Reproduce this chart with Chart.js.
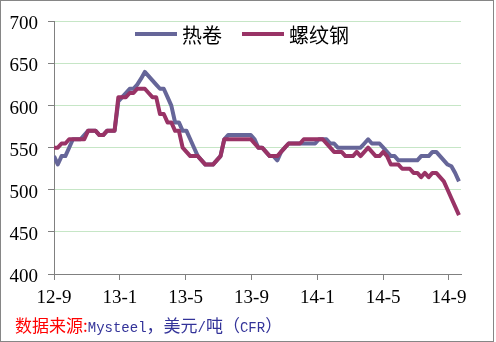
<!DOCTYPE html>
<html>
<head>
<meta charset="utf-8">
<title>热卷 / 螺纹钢</title>
<script src="https://cdn.jsdelivr.net/npm/chart.js@4"></script>
<style>
  body { margin: 0; background: #fff; }
  #frame {
    position: absolute; left: 0; top: 0;
    width: 494px; height: 342px;
    box-sizing: border-box;
    border: 1px solid #868686;
  }
  #chart { position: absolute; left: 0; top: 0; }
  #source {
    position: absolute; left: 15px; top: 314px;
    line-height: 22px; white-space: nowrap;
    font-family: "Noto Sans CJK SC", sans-serif; font-size: 17px;
  }
  #source .label { color: #ff0000; }
  #source .text  { color: #333399; }
  #source .latin { font-family: "Liberation Mono", monospace; font-size: 14px; }
</style>
</head>
<body>
<div id="frame"></div>
<canvas id="chart" width="496" height="342"></canvas>
<div id="source"><span class="label">数据来源:</span><span class="text"><span class="latin">Mysteel</span>，美元<span class="latin">/</span>吨（<span class="latin">CFR</span>）</span></div>

<script>
// weekly prices, USD/t CFR, from Sep 2012
const hrcPrices = [
  540, 530, 540, 540, 550, 560, 560, 560, 565, 570,
  570, 570, 565, 565, 570, 570, 570, 605, 610, 615,
  620, 620, 625, 632, 640, 635, 630, 625, 620, 620,
  610, 600, 580, 580, 570, 570, 560, 550, 540, 535,
  530, 530, 530, 535, 540, 560, 565, 565, 565, 565,
  565, 565, 565, 560, 550, 550, 545, 540, 540, 535,
  545, 550, 555, 555, 555, 555, 555, 555, 555, 555,
  560, 560, 560, 555, 555, 550, 550, 550, 550, 550,
  550, 550, 555, 560, 555, 555, 555, 550, 545, 540,
  540, 535, 535, 535, 535, 535, 535, 540, 540, 540,
  545, 545, 540, 535, 530, 528, 520, 510
];
const rebarPrices = [
  550, 550, 555, 555, 560, 560, 560, 560, 560, 570,
  570, 570, 565, 565, 570, 570, 570, 610, 610, 610,
  615, 615, 620, 620, 620, 615, 610, 610, 590, 590,
  580, 580, 570, 570, 550, 545, 540, 540, 540, 535,
  530, 530, 530, 535, 540, 560, 560, 560, 560, 560,
  560, 560, 560, 555, 550, 550, 545, 540, 540, 540,
  545, 550, 555, 555, 555, 555, 560, 560, 560, 560,
  560, 560, 555, 550, 545, 545, 545, 540, 540, 540,
  545, 540, 545, 550, 545, 540, 540, 545, 540, 530,
  530, 530, 525, 525, 525, 520, 520, 515, 520, 515,
  520, 520, 515, 510, 500, 490, 480, 470
];

// axis ticks: months since 2012-9
const monthTicks  = [0, 4, 8, 12, 16, 20, 24];
const monthLabels = ['12-9', '13-1', '13-5', '13-9', '14-1', '14-5', '14-9'];
const seriesNames = ['热卷', '螺纹钢'];

const WEEK = 7 / 30.44; // one week in months
const toPoints = values => values.map((v, i) => ({ x: i * WEEK, y: v }));

const axisGray = '#808080';
const tickFont = { family: '"Liberation Serif", serif', size: 19 };

// legend drawn inside the plot, like the original sheet
const inlineLegend = {
  id: 'inlineLegend',
  afterDraw(chart) {
    const ctx = chart.ctx;
    ctx.save();
    ctx.font = '20px "Noto Sans CJK SC"';
    ctx.textBaseline = 'middle';
    let x = 135;
    const y = 34;
    chart.data.datasets.forEach(ds => {
      ctx.strokeStyle = ds.borderColor;
      ctx.lineWidth = 4;
      ctx.lineCap = 'butt';
      ctx.beginPath();
      ctx.moveTo(x, y);
      ctx.lineTo(x + 42, y);
      ctx.stroke();
      ctx.fillStyle = '#000';
      ctx.fillText(ds.label, x + 47, y + 1);
      x += 47 + ctx.measureText(ds.label).width + 20;
    });
    ctx.restore();
  }
};

new Chart(document.getElementById('chart'), {
  type: 'line',
  data: {
    datasets: [
      {
        label: seriesNames[0],
        data: toPoints(hrcPrices),
        borderColor: '#666699',
        borderWidth: 4,
        pointRadius: 0,
        tension: 0,
        borderJoinStyle: 'round',
        order: 2
      },
      {
        label: seriesNames[1],
        data: toPoints(rebarPrices),
        borderColor: '#993366',
        borderWidth: 4,
        pointRadius: 0,
        tension: 0,
        borderJoinStyle: 'round',
        order: 1
      }
    ]
  },
  options: {
    responsive: false,
    animation: false,
    layout: { padding: { left: 0, top: 21, right: 35, bottom: 0 } },
    scales: {
      x: {
        type: 'linear',
        min: 0,
        max: 24.73,
        afterBuildTicks: axis => {
          axis.ticks = monthTicks.map(v => ({ value: v }));
        },
        afterFit: scale => { scale.height = 68; },
        ticks: {
          autoSkip: false,
          maxRotation: 0,
          padding: 7,
          color: '#000',
          font: tickFont,
          callback: value => monthLabels[monthTicks.indexOf(value)]
        },
        grid: { drawOnChartArea: false, tickLength: 6, tickColor: axisGray },
        border: { color: axisGray, width: 1 }
      },
      y: {
        min: 400,
        max: 700,
        afterFit: scale => { scale.width = 54; },
        ticks: { stepSize: 50, padding: 10, labelOffset: 3, color: '#000', font: tickFont },
        grid: { color: '#c6e6c6', tickLength: 6, tickColor: axisGray },
        border: { color: axisGray, width: 1 }
      }
    },
    plugins: {
      legend: { display: false },
      tooltip: { enabled: false }
    }
  },
  plugins: [inlineLegend]
});
</script>
</body>
</html>
